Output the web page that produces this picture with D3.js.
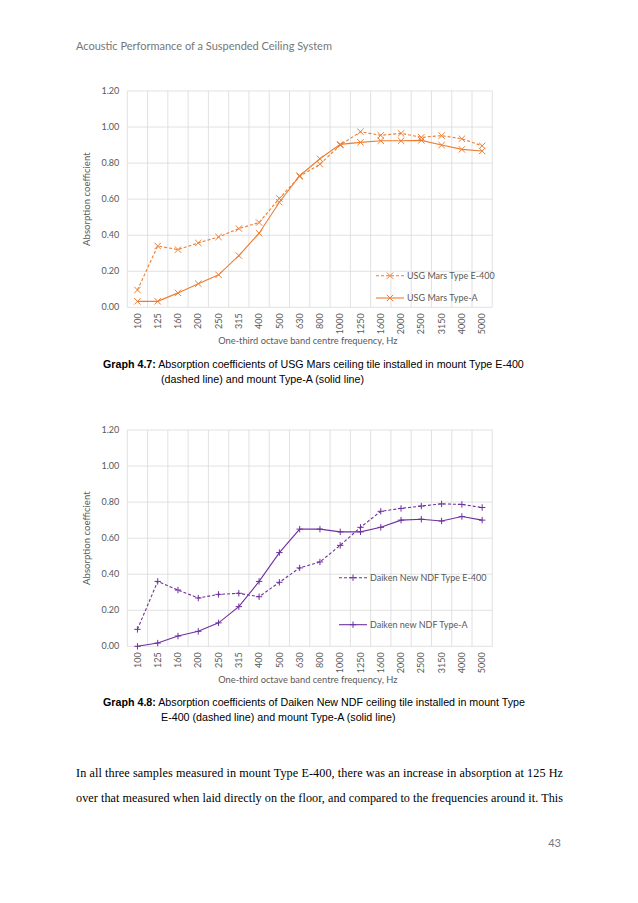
<!DOCTYPE html>
<html>
<head>
<meta charset="utf-8">
<script src="https://cdn.jsdelivr.net/npm/d3@7"></script>
<style>
  body { margin: 0; background: #fff; }
  text { font-family: Lato, "Open Sans", sans-serif; }
  text.arial { font-family: "Liberation Sans", Arial, sans-serif; }
  text.serif { font-family: "Liberation Serif", serif; }
</style>
</head>
<body>
<script>
// Data.
var freqs = ["100","125","160","200","250","315","400","500","630","800","1000","1250","1600","2000","2500","3150","4000","5000"];
var yTicks = [0, 0.2, 0.4, 0.6, 0.8, 1.0, 1.2];

var usgE400 = [0.096,0.34,0.32,0.357,0.39,0.437,0.47,0.604,0.726,0.794,0.90,0.974,0.954,0.965,0.943,0.952,0.935,0.896];
var usgTypeA = [0.033,0.033,0.08,0.131,0.18,0.287,0.411,0.583,0.73,0.824,0.904,0.915,0.924,0.924,0.926,0.90,0.876,0.867];

var daikenE400 = [0.094,0.36,0.312,0.268,0.288,0.294,0.275,0.355,0.435,0.468,0.56,0.66,0.749,0.765,0.778,0.79,0.787,0.77];
var daikenTypeA = [0.0,0.018,0.057,0.083,0.13,0.22,0.36,0.52,0.65,0.65,0.635,0.635,0.66,0.70,0.705,0.695,0.72,0.70];

var svg = d3.select("body")
  .append("svg")
  .attr("width", 638)
  .attr("height", 903);

// page header
svg.append("text")
  .attr("x", 76).attr("y", 50)
  .attr("font-size", 11)
  .attr("fill", "#777")
  .text("Acoustic Performance of a Suspended Ceiling System");

function drawMarker(g, type, x, y, color){
  var s = 3.2;
  if(type == "x"){
    g.append("path").attr("d", "M"+(x-s)+","+(y-s)+"L"+(x+s)+","+(y+s)+"M"+(x-s)+","+(y+s)+"L"+(x+s)+","+(y-s))
      .attr("stroke", color).attr("stroke-width", 1);
  } else {
    g.append("path").attr("d", "M"+(x-s)+","+y+"L"+(x+s)+","+y+"M"+x+","+(y-s)+"L"+x+","+(y+s))
      .attr("stroke", color).attr("stroke-width", 1);
  }
}

function drawChart(top, series, names, color, marker, legendX, legendY){
  var left = 127.3, right = 492.3, bottom = top + 216.3;
  var g = svg.append("g");

  var x = d3.scaleBand().domain(freqs).range([left, right]);
  var y = d3.scaleLinear().domain([0, 1.2]).range([bottom, top]);

  // horizontal grid
  g.selectAll(".hg").data(yTicks).enter().append("line")
    .attr("x1", left).attr("x2", right)
    .attr("y1", function(d){return y(d);}).attr("y2", function(d){return y(d);})
    .attr("stroke", "#d9d9d9").attr("stroke-width", 0.8);

  // vertical grid between categories
  var edges = freqs.map(function(f){return x(f);}).concat([right]);
  g.selectAll(".vg").data(edges).enter().append("line")
    .attr("x1", function(d){return d;}).attr("x2", function(d){return d;})
    .attr("y1", top).attr("y2", bottom)
    .attr("stroke", "#d9d9d9").attr("stroke-width", 0.8);

  // y tick labels
  g.selectAll(".yl").data(yTicks).enter().append("text")
    .attr("x", left - 8).attr("y", function(d){return y(d);})
    .attr("dy", "0.35em")
    .attr("text-anchor", "end")
    .attr("font-size", 9)
    .attr("fill", "#595959")
    .text(function(d){return d.toFixed(2);});

  // x tick labels (rotated)
  g.selectAll(".xl").data(freqs).enter().append("text")
    .attr("transform", function(d){return "translate(" + (x(d) + x.bandwidth()/2) + "," + (bottom + 6) + ") rotate(-90)";})
    .attr("dy", "0.35em")
    .attr("text-anchor", "end")
    .attr("font-size", 9)
    .attr("fill", "#595959")
    .text(function(d){return d;});

  // axis titles
  g.append("text")
    .attr("x", (left + right)/2 - 2).attr("y", bottom + 37)
    .attr("text-anchor", "middle")
    .attr("font-size", 9.3)
    .attr("fill", "#595959")
    .text("One-third octave band centre frequency, Hz");

  g.append("text")
    .attr("transform", "translate(" + 90 + "," + ((top + bottom)/2) + ") rotate(-90)")
    .attr("text-anchor", "middle")
    .attr("font-size", 9.6)
    .attr("fill", "#595959")
    .text("Absorption coefficient");

  var line = d3.line()
    .x(function(d, i){return x(freqs[i]) + x.bandwidth()/2;})
    .y(function(d){return y(d);});

  series.forEach(function(vals, si){
    g.append("path")
      .attr("d", line(vals))
      .attr("fill", "none")
      .attr("stroke", color)
      .attr("stroke-width", 1.1)
      .attr("stroke-dasharray", si == 0 ? "3,2" : null);
    vals.forEach(function(v, i){
      drawMarker(g, marker, x(freqs[i]) + x.bandwidth()/2, y(v), color);
    });

    // legend
    var ly = legendY[si];
    g.append("line")
      .attr("x1", legendX).attr("x2", legendX + 28)
      .attr("y1", ly).attr("y2", ly)
      .attr("stroke", color).attr("stroke-width", 1.1)
      .attr("stroke-dasharray", si == 0 ? "3,2" : null);
    drawMarker(g, marker, legendX + 14, ly, color);
    g.append("text")
      .attr("x", legendX + 31).attr("y", ly)
      .attr("dy", "0.35em")
      .attr("font-size", 9)
      .attr("fill", "#595959")
      .text(names[si]);
  });
}

drawChart(91, [usgE400, usgTypeA], ["USG Mars Type E-400", "USG Mars Type-A"], "#ed7d31", "x", 376, [275.7, 298]);
drawChart(430, [daikenE400, daikenTypeA], ["Daiken New NDF Type E-400", "Daiken new NDF Type-A"], "#7030a0", "+", 339, [577.7, 624.7]);

// captions
function caption(y, label, line1, line2){
  var t = svg.append("text").attr("class", "arial").attr("x", 103).attr("y", y)
    .attr("font-size", 10.7).attr("fill", "#000");
  t.append("tspan").attr("font-weight", "bold").text(label);
  t.append("tspan").text(" " + line1);
  svg.append("text").attr("class", "arial").attr("x", 161).attr("y", y + 15)
    .attr("font-size", 10.7).attr("fill", "#000")
    .text(line2);
}
caption(368, "Graph 4.7:", "Absorption coefficients of USG Mars ceiling tile installed in mount Type E-400", "(dashed line) and mount Type-A (solid line)");
caption(706, "Graph 4.8:", "Absorption coefficients of Daiken New NDF ceiling tile installed in mount Type", "E-400 (dashed line) and mount Type-A (solid line)");

// body text
var body = [
  "In all three samples measured in mount Type E-400, there was an increase in absorption at 125 Hz",
  "over that measured when laid directly on the floor, and compared to the frequencies around it. This"
];
svg.selectAll(".body").data(body).enter().append("text")
  .attr("class", "serif")
  .attr("x", 76).attr("y", function(d, i){return 777 + i*25;})
  .attr("font-size", 12.2)
  .attr("textLength", 487)
  .attr("lengthAdjust", "spacing")
  .attr("fill", "#000")
  .text(function(d){return d;});

svg.append("text")
  .attr("x", 561).attr("y", 847)
  .attr("text-anchor", "end")
  .attr("font-size", 11)
  .attr("fill", "#777")
  .text("43");
</script>
</body>
</html>
